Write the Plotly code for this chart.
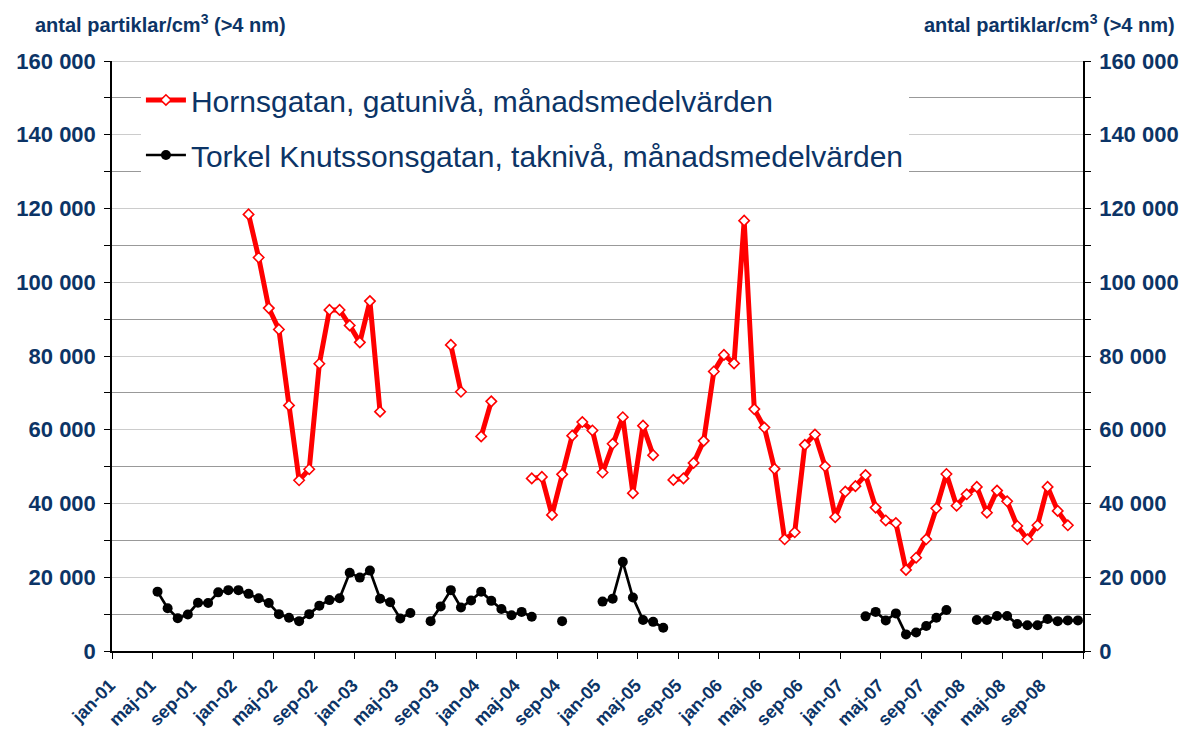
import plotly.graph_objects as go

months = ["jan", "feb", "mar", "apr", "maj", "jun", "jul", "aug", "sep", "okt", "nov", "dec"]
years = ["01", "02", "03", "04", "05", "06", "07", "08"]
categories = [f"{m}-{y}" for y in years for m in months]

N = None
hornsgatan = [
    N, N, N, N, N, N, N, N, N, N, N, N,                                   # 2001
    N, 118400, 106700, 93000, 87200, 66600, 46300, 49300, 77900, 92500, 92500, 88300,  # 2002
    83700, 94900, 64900, N, N, N, N, N, N, 83000, 70300, N,               # 2003
    58200, 67700, N, N, N, 46800, 47200, 36900, 47900, 58400, 62100, 59800,  # 2004
    48400, 56200, 63400, 42800, 61100, 53100, N, 46400, 46800, 51000, 57000, 75800,  # 2005
    80300, 78000, 116700, 65600, 60600, 49400, 30300, 32200, 55900, 58700, 50100, 36300,  # 2006
    43200, 44700, 47700, 38900, 35400, 34700, 22000, 25300, 30300, 38700, 48000, 39400,  # 2007
    42500, 44500, 37500, 43500, 40600, 33900, 30300, 34100, 44500, 38000, 34100, N,  # 2008
]
torkel = [
    N, N, N, N, 16100, 11600, 8900, 9900, 13100, 13000, 15900, 16500,     # 2001
    16500, 15500, 14300, 13000, 10000, 9000, 8100, 10000, 12300, 13800, 14300, 21200,  # 2002
    19900, 21800, 14200, 13200, 8800, 10300, N, 8100, 12100, 16500, 11800, 13700,  # 2003
    16100, 13600, 11400, 9700, 10600, 9300, N, N, 8100, N, N, N,          # 2004
    13400, 14200, 24200, 14500, 8400, 7900, 6300, N, N, N, N, N,          # 2005
    N, N, N, N, N, N, N, N, N, N, N, N,                                   # 2006
    N, N, 9400, 10600, 8300, 10200, 4500, 5000, 6800, 9000, 11100, N,     # 2007
    N, 8400, 8400, 9500, 9500, 7300, 7000, 7000, 8700, 8100, 8300, 8300,  # 2008
]
name_h = "Hornsgatan, gatunivå, månadsmedelvärden"
name_t = "Torkel Knutssonsgatan, taknivå, månadsmedelvärden"
y_title = "antal partiklar/cm<sup>3</sup> (>4 nm)"

NAVY = "#0c3466"
FONT = "Liberation Sans, Arial, sans-serif"
xi = list(range(len(categories)))

fig = go.Figure()
fig.add_trace(go.Scatter(
    x=xi, y=hornsgatan, name=name_h, mode="lines+markers", legendgroup="h",
    line=dict(color="#ff0000", width=5),
    marker=dict(symbol="diamond", size=8, color="white", line=dict(color="#ff0000", width=1.6)),
    connectgaps=False,
))
fig.add_trace(go.Scatter(
    x=xi, y=torkel, name=name_t, mode="lines+markers", legendgroup="t",
    line=dict(color="black", width=2.7),
    marker=dict(symbol="circle", size=10, color="black"),
    connectgaps=False,
))
fig.add_trace(go.Scatter(x=[None], y=[None], yaxis="y2", showlegend=False, hoverinfo="skip"))

yaxis_common = dict(
    range=[0, 160000], dtick=20000, tick0=0, tickformat=",d",
    ticks="outside", ticklen=6, tickcolor="black", tickwidth=1,
    showline=True, linecolor="black", linewidth=1.5,
    tickfont=dict(family=FONT, size=22, color=NAVY, weight="bold"),
    ticklabelstandoff=4, zeroline=False, automargin=False,
)

fig.update_layout(
    width=1187, height=729,
    margin=dict(l=112, r=104, t=61, b=78),
    paper_bgcolor="white", plot_bgcolor="white",
    separators=", ",
    font=dict(family=FONT, color=NAVY),
    xaxis=dict(
        range=[-0.5, 95.5], tickmode="array", tickvals=xi[::4], ticktext=categories[::4],
        tickangle=-45, ticks="", showgrid=False, zeroline=False, automargin=False,
        showline=True, linecolor="black", linewidth=1.5,
        tickfont=dict(family=FONT, size=18, color=NAVY, weight="bold"),
        ticklabelstandoff=15, ticklabelshift=-7,
        minor=dict(tick0=-0.5, dtick=4, ticks="outside", ticklen=6, tickcolor="black", showgrid=False),
    ),
    yaxis=dict(
        **yaxis_common, side="left", showgrid=True, gridcolor="#cccccc", gridwidth=1,
        minor=dict(dtick=10000, ticks="outside", ticklen=6, tickcolor="black", showgrid=True, gridcolor="#999999"),
    ),
    yaxis2=dict(
        **yaxis_common, side="right", overlaying="y", showgrid=False,
        minor=dict(dtick=10000, ticks="outside", ticklen=6, tickcolor="black", showgrid=False),
    ),
    legend=dict(
        x=0.0298, y=0.978, xanchor="left", yanchor="top", bgcolor="white",
        font=dict(family=FONT, size=30, color=NAVY), tracegroupgap=13,
        traceorder="grouped", itemwidth=40,
    ),
    showlegend=True,
)
fig.add_shape(type="line", xref="paper", yref="y", x0=0, x1=1, y0=160000, y1=160000,
              line=dict(color="#999999", width=1), layer="below")
fig.add_annotation(text=y_title, xref="paper", yref="paper", x=-0.0814, y=1.064,
                   xanchor="left", yanchor="middle", showarrow=False,
                   font=dict(family=FONT, size=20, color=NAVY, weight="bold"))
fig.add_annotation(text=y_title, xref="paper", yref="paper", x=1.0968, y=1.064,
                   xanchor="right", yanchor="middle", showarrow=False,
                   font=dict(family=FONT, size=20, color=NAVY, weight="bold"))

fig.write_html("out.html", config={"displayModeBar": False},
               post_script="document.body.style.margin='0';document.body.style.padding='0';")
